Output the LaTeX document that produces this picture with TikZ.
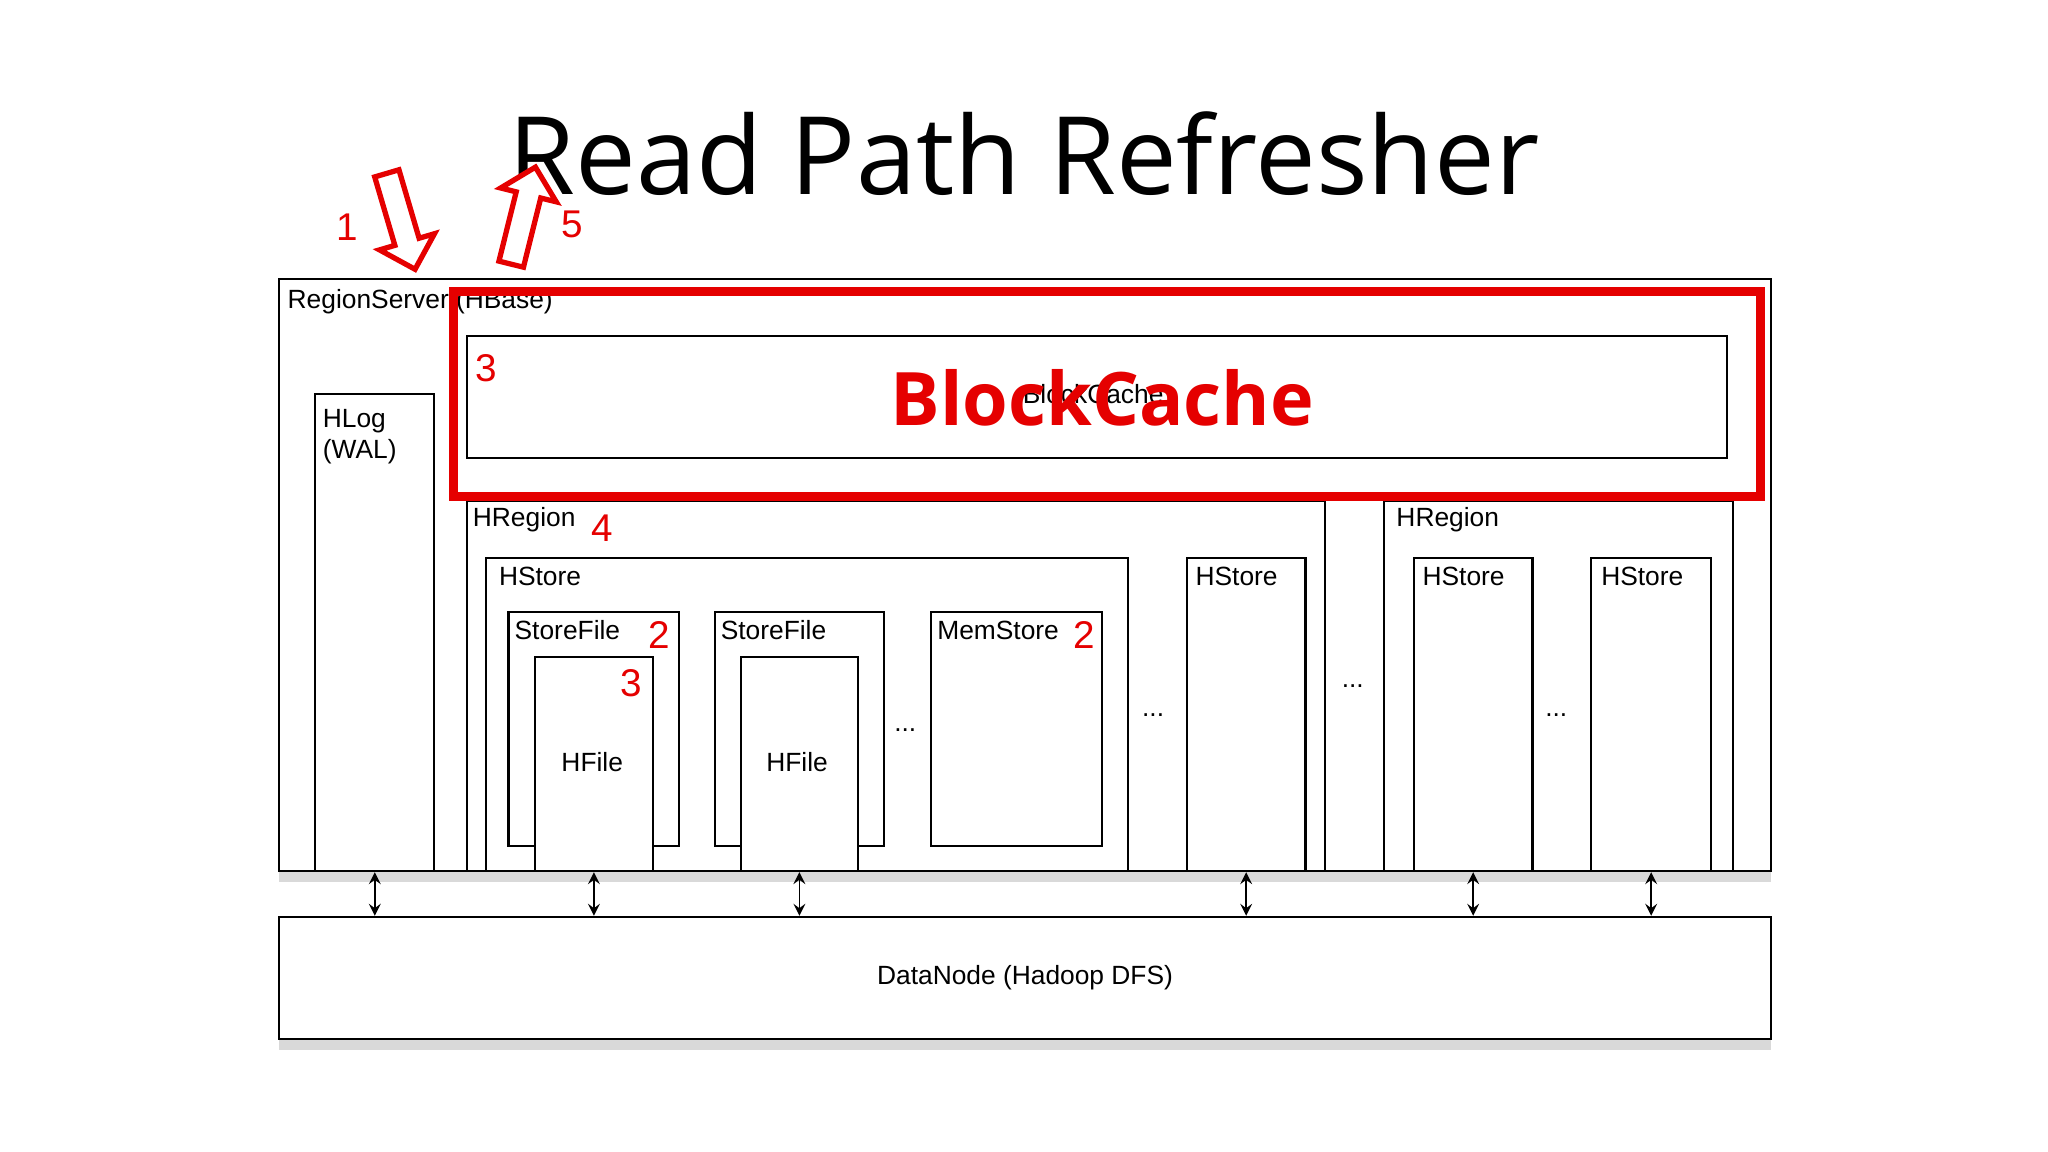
\documentclass[tikz,border=0pt]{standalone}
\usepackage{fontspec}
\setmainfont{Liberation Sans}
\newfontfamily\titlefont{Open Sans}
\usetikzlibrary{shapes.arrows,shadows}
\def\pxl{0.013045cm}
\newcommand{\bx}[6][]{%
  \node[box,#1,minimum width={(#5-#3)*\pxl},minimum height={(#6-#4)*\pxl}] (#2) at (#3,#4) {};}
\begin{document}
\begin{tikzpicture}[
            x=0.013045cm, y=-0.013045cm,
            box/.style={
                rectangle,
                draw=black,
                fill=white,
                line width=0.6pt,
                anchor=north west,
                inner sep=0pt
            },
            lbl/.style={
                anchor=west,
                inner sep=0pt,
                font=\fontsize{7.5}{9}\selectfont
            },
            num/.style={
                text=red!90!black,
                inner sep=0pt,
                font=\fontsize{11}{12}\selectfont
            },
            bigarrow/.style={
                single arrow,
                draw=red!90!black,
                line width=1.5pt,
                fill=white,
                inner sep=0.1cm,
                single arrow head extend=0.16cm,
                minimum height=1.0cm
            },
            shade/.style={
                drop shadow={opacity=0.3, shadow xshift=0pt, shadow yshift=-3pt}
            },
            link/.style={<->, >=stealth, line width=0.5pt}
        ]

        \useasboundingbox (0,0) rectangle (1570,883);

        % title
        \node[font=\titlefont\fontsize{30.8}{36}\selectfont] (title) at (785,118) {Read Path Refresher};

        % outer boxes
        \bx[shade]{rs}{213}{213}{1357}{667}
        \bx[shade]{dn}{213}{702}{1357}{796}
        \node[font=\fontsize{7.5}{9}\selectfont] at (dn.center) {DataNode (Hadoop DFS)};
        \node[lbl] at (220,231) {RegionServer (HBase)};

        % block cache
        \bx{bc}{357}{257}{1323}{350}
        \node[font=\fontsize{7.5}{9}\selectfont] at (838,302) {BlockCache};

        % hlog
        \bx{hlog}{241}{301}{332}{667}
        \node[lbl, anchor=north west, align=left] at (247,313) {HLog\\(WAL)};

        % first region
        \bx{hr1}{357}{383}{1015}{667}
        \node[lbl] at (362,398) {HRegion};
        \bx{hs1}{372}{427}{864}{667}
        \node[lbl] at (382,442) {HStore};
        \bx{sf1}{389}{468}{520}{648}
        \node[lbl] at (394,483) {StoreFile};
        \bx{hf1}{409}{503}{500}{667}
        \node[font=\fontsize{7.5}{9}\selectfont] at (454,584) {HFile};
        \bx{sf2}{547}{468}{677}{648}
        \node[lbl] at (552,483) {StoreFile};
        \bx{hf2}{567}{503}{657}{667}
        \node[font=\fontsize{7.5}{9}\selectfont] at (611,584) {HFile};
        \node[font=\fontsize{7.5}{9}\selectfont] at (694,560) {...};
        \bx{ms}{713}{468}{844}{648}
        \node[lbl] at (718,483) {MemStore};
        \node[font=\fontsize{7.5}{9}\selectfont] at (884,548) {...};
        \bx{hs2}{909}{427}{1000}{667}
        \node[lbl] at (916,442) {HStore};
        \node[font=\fontsize{7.5}{9}\selectfont] at (1037,526) {...};

        % second region
        \bx{hr2}{1060}{383}{1328}{667}
        \node[lbl] at (1070,398) {HRegion};
        \bx{hs3}{1083}{427}{1174}{667}
        \node[lbl] at (1090,442) {HStore};
        \bx{hs4}{1219}{427}{1311}{667}
        \node[lbl] at (1227,442) {HStore};
        \node[font=\fontsize{7.5}{9}\selectfont] at (1193,548) {...};

        % links to hdfs
        \foreach \n in {hlog, hf1, hf2, hs2, hs3, hs4}
            \draw[link] (\n.south) -- (\n.south |- dn.north);

        % highlight
        \node[draw=red!90!black, line width=2.6pt, anchor=north west, inner sep=0pt,
              minimum width={1002*\pxl}, minimum height={157*\pxl}] (hl) at (344,220) {};
        \node[text=red!90!black, font=\titlefont\bfseries\fontsize{21}{25}\selectfont] (bcbig) at (845,305) {BlockCache};

        % numbers
        \node[num] at (373,282) {3};
        \node[num] at (462,405) {4};
        \node[num] at (505,487) {2};
        \node[num] at (484,524) {3};
        \node[num] at (831,487) {2};
        \node[num] at (266,174) {1};
        \node[num] at (439,172) {5};

        % in and out
        \node[bigarrow, rotate=-73.6] (in) at (306,165) {};
        \node[bigarrow, rotate=76] (out) at (400,170) {};
    \end{tikzpicture}
\end{document}
